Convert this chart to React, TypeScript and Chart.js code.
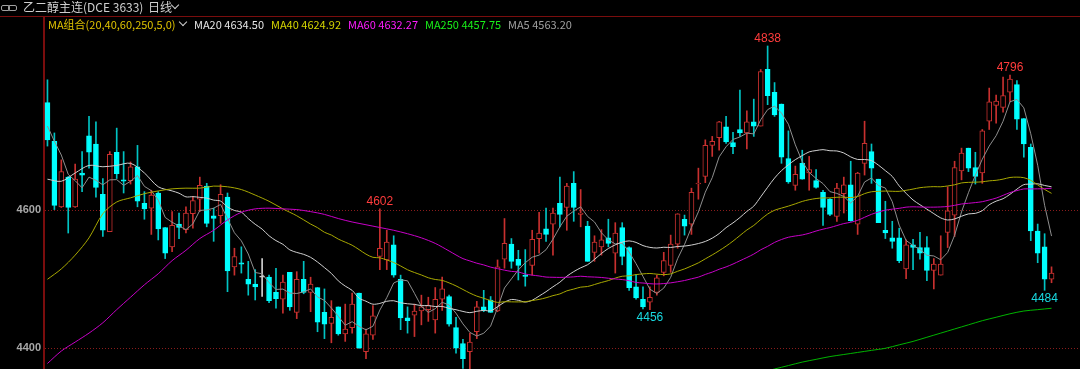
import React, { useEffect, useRef } from 'react';
import { Chart, registerables } from 'chart.js';

Chart.register(...registerables);

// ---------------- data ----------------
const opens = [4756,4700,4605,4648,4605,4654,4708,4696,4623,4569, 4684,4644,4643,4663,4610,4603,4625,4575,4547,4580,
  4572,4595,4616,4635,4592,4592,4619,4518,4524,4500, 4493,4503,4503,4481,4471,4510,4452,4500,4481,4488,
  4452,4436,4460,4421,4430,4480,4395,4419,4533,4528, 4550,4500,4444,4448,4454,4456,4441,4471,4475,4430,
  4407,4395,4424,4460,4470,4454,4529,4551,4529,4506, 4520,4559,4573,4580,4610,4604,4639,4594,4577,4539,
  4547,4560,4538,4575,4546,4489,4471,4467,4481,4510, 4520,4551,4587,4580,4638,4649,4694,4705,4721,4698,
  4717,4712,4728,4722,4804,4771,4754,4675,4636,4668, 4654,4643,4626,4616,4591,4624,4637,4580,4668,4685,
  4645,4571,4560,4560,4515,4550,4546,4546,4513,4506, 4568,4593,4657,4690,4662,4654,4729,4752,4749,4771,
  4782,4733,4691,4570,4547,4500];

const highs = [4789,4712,4673,4649,4667,4685,4736,4728,4646,4685, 4719,4685,4670,4694,4627,4629,4627,4575,4598,4596,
  4605,4620,4648,4639,4603,4637,4625,4545,4547,4526, 4514,4530,4506,4516,4506,4510,4511,4526,4503,4488,
  4486,4469,4460,4464,4480,4480,4428,4462,4602,4571, 4563,4506,4460,4464,4477,4474,4488,4503,4477,4445,
  4413,4422,4468,4484,4475,4528,4588,4559,4542,4543, 4571,4597,4603,4603,4648,4639,4656,4630,4584,4563,
  4572,4587,4582,4582,4547,4507,4489,4489,4506,4539, 4564,4595,4593,4632,4661,4702,4707,4729,4736,4713,
  4774,4744,4761,4804,4838,4785,4754,4715,4664,4687, 4678,4659,4629,4617,4639,4648,4671,4655,4729,4696,
  4645,4613,4584,4574,4557,4558,4568,4562,4530,4563, 4634,4671,4690,4690,4684,4717,4777,4767,4793,4796,
  4788,4733,4696,4580,4566,4518];

const lows = [4693,4601,4604,4567,4604,4627,4661,4619,4562,4569, 4646,4625,4638,4605,4587,4565,4557,4530,4540,4559,
  4567,4574,4598,4576,4555,4581,4482,4506,4509,4477, 4470,4475,4466,4458,4451,4455,4443,4479,4453,4424,
  4414,4408,4419,4410,4422,4400,4385,4413,4514,4514, 4503,4427,4422,4417,4434,4439,4422,4455,4432,4393,
  4371,4370,4414,4453,4452,4453,4516,4516,4499,4490, 4506,4538,4555,4535,4576,4571,4584,4576,4526,4526,
  4535,4547,4509,4521,4484,4471,4457,4456,4477,4505, 4510,4545,4564,4565,4616,4640,4678,4687,4697,4682,
  4707,4689,4707,4722,4753,4736,4668,4639,4629,4645, 4629,4632,4578,4592,4584,4596,4584,4565,4651,4639,
  4582,4559,4545,4524,4501,4514,4529,4498,4486,4506, 4546,4562,4644,4656,4638,4639,4717,4726,4742,4757,
  4717,4677,4556,4524,4484,4495];

const closes = [4702,4607,4656,4604,4645,4651,4684,4633,4571,4681, 4653,4642,4663,4613,4602,4622,4573,4538,4578,4575,
  4596,4614,4636,4581,4588,4623,4512,4533,4522,4493, 4489,4503,4469,4472,4496,4460,4500,4481,4493,4438,
  4435,4445,4421,4428,4464,4400,4421,4447,4545,4554, 4506,4444,4440,4454,4460,4462,4471,4486,4435,4400,
  4385,4409,4460,4455,4452,4518,4552,4526,4520,4504, 4558,4567,4565,4596,4594,4635,4604,4596,4526,4554,
  4557,4552,4567,4533,4488,4473,4460,4474,4502,4527, 4551,4595,4577,4626,4639,4694,4700,4728,4699,4692,
  4712,4728,4722,4801,4766,4738,4677,4641,4652,4645, 4659,4633,4604,4594,4632,4637,4585,4654,4697,4661,
  4582,4567,4555,4527,4550,4546,4538,4513,4522,4522, 4599,4662,4683,4661,4649,4715,4757,4758,4766,4790,
  4732,4696,4570,4538,4500,4509];

const ma5 = [4722,4700,4680,4652,4642.8,4632.6,4648.0,4643.4,4636.8,4644.0, 4644.4,4636.0,4642.0,4650.4,4634.6,4628.4,4614.6,4589.6,4582.6,4577.2,
  4572.0,4580.2,4599.8,4600.4,4603.0,4608.4,4588.0,4567.4,4555.6,4536.6, 4509.8,4508.0,4495.2,4485.2,4485.8,4480.0,4479.4,4481.8,4486.0,4474.4,
  4469.4,4458.4,4446.4,4433.4,4438.6,4431.6,4426.8,4432.0,4455.4,4473.4, 4494.6,4499.2,4497.8,4479.6,4460.8,4452.0,4457.4,4466.6,4462.8,4450.8,
  4435.4,4423.0,4417.8,4421.8,4432.2,4458.8,4487.4,4500.6,4513.6,4524.0, 4532.0,4535.0,4542.8,4558.0,4576.0,4591.4,4598.8,4605.0,4591.0,4583.0,
  4567.4,4557.0,4551.2,4552.6,4539.4,4522.6,4504.2,4485.6,4479.4,4487.2, 4502.8,4529.8,4550.4,4575.2,4597.6,4626.2,4647.2,4677.4,4692.0,4702.6,
  4706.2,4711.8,4710.6,4731.0,4745.8,4751.0,4740.8,4724.6,4694.8,4670.6, 4654.8,4646.0,4638.6,4627.0,4624.4,4620.0,4610.4,4620.4,4641.0,4646.8,
  4635.8,4632.2,4612.4,4578.4,4556.2,4549.0,4543.2,4534.8,4533.8,4528.2, 4538.8,4563.6,4597.6,4625.4,4650.8,4674.0,4693.0,4708.0,4729.0,4757.2,
  4760.6,4748.4,4710.8,4665.2,4607.2,4562.6];

const ma20 = [4645,null,4642,null,4654,null,4665,null,4663,null, 4665,null,4668,null,4654,null,4634,null,4628,4624.7,
  4619.4,4619.7,4618.7,4617.6,4614.7,4613.3,4604.7,4599.7,4597.3,4587.9, 4579.7,4572.7,4563.0,4556.0,4550.7,4542.6,4538.9,4536.1,4531.8,4525.0,
  4516.9,4508.5,4497.7,4490.1,4483.9,4472.7,4468.2,4463.9,4465.0,4468.1, 4468.9,4466.0,4464.5,4463.6,4461.8,4461.9,4460.5,4460.7,4457.8,4455.9,
  4453.4,4451.6,4453.6,4454.9,4454.3,4460.2,4466.8,4470.7,4469.5,4467.0, 4469.6,4475.7,4482.0,4489.1,4495.8,4504.4,4511.1,4516.6,4521.1,4528.8,
  4537.4,4544.6,4549.9,4553.8,4555.6,4553.4,4548.8,4546.2,4545.3,4546.4, 4546.1,4547.5,4548.1,4549.6,4551.8,4554.8,4559.6,4566.2,4574.8,4581.7,
  4589.5,4598.3,4606.0,4619.4,4633.3,4646.6,4657.4,4665.8,4673.3,4679.2, 4684.6,4686.5,4687.8,4686.2,4685.9,4683.0,4677.3,4673.6,4673.5,4671.9,
  4665.4,4657.4,4649.0,4635.3,4624.5,4614.9,4608.0,4601.6,4595.1,4588.9, 4585.9,4587.4,4591.3,4594.7,4595.5,4599.4,4608.0,4613.2,4616.7,4623.1,
  4630.6,4637.1,4637.8,4638.4,4635.9,4634.0];

const ma40 = [4500,null,4515,null,4535,null,4560,null,4595,null, 4612,null,4618,null,4624,null,4628,null,4631,null,
  4632,null,4632,null,4635,null,4634,null,4630,null, 4622,null,4613,null,4602,null,4592,null,4580,4574.8,
  4568.1,4564.1,4558.2,4553.8,4549.3,4543.0,4536.4,4531.8,4531.1,4528.0, 4524.3,4519.3,4513.8,4509.8,4506.2,4502.2,4499.7,4498.4,4494.8,4490.4,
  4485.2,4480.0,4475.6,4472.5,4469.1,4466.5,4467.5,4467.3,4467.2,4467.5, 4469.2,4470.8,4473.2,4476.3,4478.8,4483.2,4485.8,4488.6,4489.5,4492.4,
  4495.4,4498.1,4501.7,4504.4,4505.0,4506.8,4507.8,4508.4,4507.4,4506.7, 4507.8,4511.6,4515.0,4519.3,4523.8,4529.6,4535.3,4541.4,4548.0,4555.3,
  4563.4,4571.4,4578.0,4586.6,4594.5,4600.0,4603.1,4606.0,4609.3,4612.8, 4615.3,4617.0,4617.9,4617.9,4618.8,4618.9,4618.4,4619.9,4624.1,4626.8,
  4627.4,4627.8,4627.5,4627.4,4628.9,4630.7,4632.7,4633.7,4634.2,4634.0, 4635.2,4636.9,4639.6,4640.4,4640.7,4641.2,4642.6,4643.4,4645.1,4647.5,
  4648.0,4647.2,4643.4,4636.8,4630.2,4624.5];

const ma60 = [4378,null,4396,null,4409,null,4422,null,4437,null, 4456,null,4474,null,4492,null,4508,null,4527,null,
  4542,null,4559,null,4571,null,4586,null,4597,null, 4602,null,4603,null,4602,null,4601,null,4598,null,
  4594,null,4588,null,4583,null,4579,null,4575,null, 4571,null,4566,null,4560,null,4552,null,4541,4535.2,
  4529.9,4526.6,4523.3,4520.8,4517.6,4515.4,4513.2,4511.4,4510.6,4507.6, 4506.0,4504.8,4503.2,4502.9,4502.7,4503.0,4503.5,4504.4,4503.6,4503.2,
  4502.6,4501.5,4500.4,4499.6,4497.9,4495.4,4494.6,4493.6,4493.2,4493.8, 4494.8,4496.4,4498.2,4500.7,4503.1,4507.0,4510.4,4514.5,4517.9,4522.1,
  4526.8,4531.5,4536.5,4542.7,4547.7,4553.4,4557.6,4560.9,4562.7,4564.2, 4566.7,4569.9,4572.6,4574.9,4577.8,4580.7,4582.6,4585.4,4589.8,4594.1,
  4597.4,4600.1,4601.6,4602.8,4604.5,4605.0,4604.7,4604.5,4604.5,4604.8, 4605.5,4607.1,4609.1,4610.1,4611.1,4612.4,4614.9,4617.6,4621.6,4625.6,
  4628.5,4630.9,4630.9,4631.0,4631.2,4631.8];

// [candle index, value]
const ma250Points: [number, number][] = [
  [103, 4365], [105, 4370], [107, 4375], [109, 4380], [111, 4384], [113, 4388], [115, 4391],
  [117, 4394], [119, 4397], [121, 4400], [123, 4405], [125, 4410], [127, 4416], [129, 4422],
  [131, 4428], [133, 4434], [135, 4440], [137, 4445], [139, 4450], [141, 4454], [143, 4456], [145, 4458],
];

const yTickValues = [4400, 4600];

const extremeMarks = [
  { index: 104, price: 4838, side: 'above', color: '#ff3c3c' },
  { index: 48, price: 4602, side: 'above', color: '#ff3c3c' },
  { index: 139, price: 4796, side: 'above', color: '#ff3c3c' },
  { index: 87, price: 4456, side: 'below', color: '#19d9e0' },
  { index: 144, price: 4484, side: 'below', color: '#19d9e0' },
];

const legendItems = [
  { text: 'MA20 4634.50', color: '#e6e6e6', left: 194 },
  { text: 'MA40 4624.92', color: '#d6d600', left: 271 },
  { text: 'MA60 4632.27', color: '#ff1cff', left: 348 },
  { text: 'MA250 4457.75', color: '#19f019', left: 425 },
  { text: 'MA5 4563.20', color: '#a0a0a0', left: 508 },
];

// ---------------- helpers ----------------
const categories = closes.map((_, i) => String(i + 1));
const UP = '#c8302f';
const DOWN = '#00ffff';
const DOWN_WICK = '#00c4c4';
const FLAT = '#d0d0d0';
const FRAME = '#7a0d0d';
const GRID = '#8a1c1c';

const dir = closes.map((c, i) => (c > opens[i] ? 1 : c < opens[i] ? -1 : 0));
const bodyFill = dir.map((d) => (d > 0 ? '#000000' : d < 0 ? DOWN : FLAT));
const bodyEdge = dir.map((d) => (d > 0 ? UP : d < 0 ? DOWN : FLAT));
const wickColor = dir.map((d) => (d > 0 ? UP : d < 0 ? DOWN_WICK : FLAT));

const ma250: (number | null)[] = categories.map(() => null);
ma250Points.forEach(([i, v]) => { ma250[i] = v; });

// dotted price grid lines running across to the right edge of the canvas
const priceGridPlugin = {
  id: 'priceGrid',
  beforeDatasetsDraw(chart: any) {
    const { ctx, chartArea, scales, width } = chart;
    ctx.save();
    ctx.strokeStyle = GRID;
    ctx.lineWidth = 1;
    ctx.setLineDash([1, 2]);
    for (const v of yTickValues) {
      const py = Math.round(scales.y.getPixelForValue(v)) + 0.5;
      ctx.beginPath();
      ctx.moveTo(chartArea.left + 1, py);
      ctx.lineTo(width, py);
      ctx.stroke();
    }
    ctx.restore();
  },
};

const extremeLabelPlugin = {
  id: 'extremeLabels',
  afterDatasetsDraw(chart: any) {
    const { ctx, scales } = chart;
    const x = scales.x;
    const y = scales.y;
    ctx.save();
    ctx.font = '12px "Liberation Sans", Arial, sans-serif';
    ctx.textAlign = 'center';
    for (const m of extremeMarks) {
      const px = x.getPixelForValue(m.index);
      const py = y.getPixelForValue(m.price);
      ctx.fillStyle = m.color;
      if (m.side === 'above') {
        ctx.textBaseline = 'bottom';
        ctx.fillText(String(m.price), px, py - 1);
      } else {
        ctx.textBaseline = 'top';
        ctx.fillText(String(m.price), px, py + 2);
      }
    }
    ctx.restore();
  },
};

function lineDs(data: (number | null)[], color: string, tension: number) {
  return {
    type: 'line' as const,
    data,
    borderColor: color,
    borderWidth: 1,
    pointRadius: 0,
    pointHoverRadius: 0,
    spanGaps: true,
    tension,
    fill: false,
    order: 0,
  };
}

export default function App() {
  const ref = useRef<HTMLCanvasElement>(null);

  useEffect(() => {
    const canvas = ref.current;
    if (!canvas) return;
    const chart = new Chart(canvas, {
      type: 'bar',
      data: {
        labels: categories,
        datasets: [
          lineDs(ma250, '#00b400', 0.3),
          lineDs(ma60, '#c800c8', 0.3),
          lineDs(ma40, '#a8a800', 0.3),
          lineDs(ma20, '#cfcfcf', 0.3),
          lineDs(ma5, '#8e8e8e', 0),
          {
            type: 'bar',
            data: opens.map((o, i) => [o, closes[i]]),
            backgroundColor: bodyFill,
            borderColor: bodyEdge,
            borderWidth: 1,
            borderSkipped: false,
            barThickness: 5,
            minBarLength: 1,
            grouped: false,
            order: 2,
          } as any,
          {
            type: 'bar',
            data: lows.map((l, i) => [l, highs[i]]),
            backgroundColor: wickColor,
            borderWidth: 0,
            barThickness: 1,
            grouped: false,
            order: 3,
          } as any,
        ],
      },
      options: {
        animation: false,
        responsive: false,
        devicePixelRatio: 1,
        events: [],
        layout: { padding: { top: 17, right: 25, left: 0, bottom: 0 } },
        plugins: { legend: { display: false }, tooltip: { enabled: false } },
        scales: {
          x: { type: 'category', display: false, offset: true, grid: { display: false } },
          y: {
            type: 'linear',
            position: 'left',
            min: 4370,
            max: 4880,
            afterFit: (scale: any) => {
              scale.width = 44;
              scale.paddingTop = 0;
              scale.paddingBottom = 0;
            },
            afterBuildTicks: (scale: any) => { scale.ticks = yTickValues.map((v) => ({ value: v })); },
            ticks: {
              color: '#a8a8a8',
              padding: 3,
              font: { family: '"Liberation Sans", Arial, sans-serif', size: 11, weight: 'bold' },
              callback: (v: any) => String(v),
            },
            grid: { display: true, drawOnChartArea: false, drawTicks: false },
            border: { display: true, color: FRAME, width: 2 },
          },
        },
      } as any,
      plugins: [priceGridPlugin, extremeLabelPlugin],
    });
    return () => chart.destroy();
  }, []);

  const font = '"Noto Sans CJK SC", "Liberation Sans", sans-serif';
  const chevron = (left: number, top: number, color: string) => (
    <span style={{ position: 'absolute', left, top, width: 5, height: 5, borderRight: `1px solid ${color}`, borderBottom: `1px solid ${color}`, transform: 'rotate(45deg)' }} />
  );
  const txt = (left: number, top: number, size: number, color: string, text: string) => (
    <span key={text} style={{ position: 'absolute', left, top, fontSize: size, lineHeight: '14px', color, whiteSpace: 'nowrap' }}>{text}</span>
  );

  return (
    <div style={{ position: 'relative', width: 1080, height: 369, background: '#000', overflow: 'hidden', fontFamily: font }}>
      <style>{'html,body{margin:0;padding:0;background:#000;}'}</style>
      <canvas ref={ref} width={1080} height={369} style={{ position: 'absolute', left: 0, top: 0, width: 1080, height: 369, display: 'block' }} />
      <div style={{ position: 'absolute', left: 0, top: 16, width: 1080, height: 1, background: FRAME }} />
      <span style={{ position: 'absolute', left: 1, top: 5, width: 7, height: 4, border: '1px solid #a0a0a0', borderRadius: 2 }} />
      <span style={{ position: 'absolute', left: 8, top: 5, width: 7, height: 4, border: '1px solid #a0a0a0', borderRadius: 2 }} />
      {txt(23, 0, 12, '#cfcfcf', '乙二醇主连(DCE 3633)')}
      {txt(148, 0, 12, '#cfcfcf', '日线')}
      {chevron(172, 2, '#cfcfcf')}
      {txt(48, 17, 11, '#e0c400', 'MA组合(20,40,60,250,5,0)')}
      {chevron(180, 19, '#cfcfcf')}
      {legendItems.map((it) => txt(it.left, 17, 11, it.color, it.text))}
    </div>
  );
}
